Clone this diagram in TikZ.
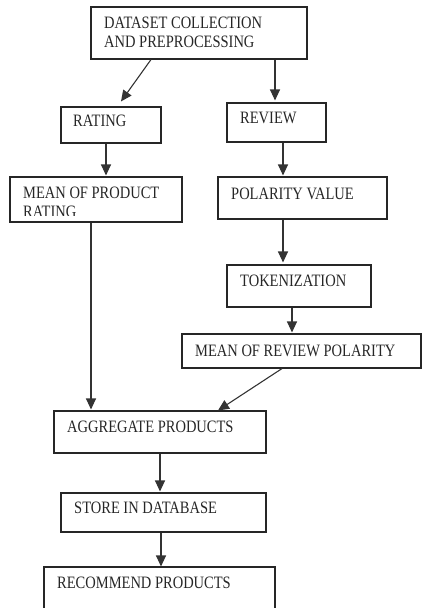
\documentclass[tikz,border=0pt]{standalone}
\usepackage{fontspec}
\setmainfont{Liberation Serif}
\usepackage{graphicx}
\usetikzlibrary{arrows.meta}
\newcommand{\etir}[1]{\scalebox{1}[1.2]{#1}}

\begin{document}
\begin{tikzpicture}[x=1pt,y=-1pt,
        boite/.style={draw=black!85,line width=1.1pt,inner sep=0pt},
        texte/.style={anchor=base west,inner sep=0pt,text=black!85,align=left,
            font=\fontsize{14.5}{19}\selectfont},
        fleche/.style={draw=black!80,line width=1.1pt,-{Triangle[width=10pt,length=11pt]}}]
        \clip (0,0) rectangle (422,608);
        
        % Les boites
        \node[boite,minimum width=216pt,minimum height=52pt] (D) at (199,33) {};
        \node[boite,minimum width=100pt,minimum height=36pt] (R) at (111,125) {};
        \node[boite,minimum width=99pt,minimum height=39pt] (V) at (276.5,122.5) {};
        \node[boite,minimum width=172pt,minimum height=45pt] (MR) at (96,199.5) {};
        \node[boite,minimum width=169pt,minimum height=42pt] (P) at (302.5,198) {};
        \node[boite,minimum width=144pt,minimum height=42pt] (T) at (299,286) {};
        \node[boite,minimum width=239pt,minimum height=34pt] (MP) at (301.5,351) {};
        \node[boite,minimum width=212pt,minimum height=42pt] (A) at (160,432) {};
        \node[boite,minimum width=205pt,minimum height=39pt] (S) at (163.5,512.5) {};
        \node[boite,minimum width=231pt,minimum height=58pt] (C) at (159.5,596) {};
        
        % Les textes (base = derniere ligne)
        \node[texte] (tD) at (104,47) {\etir{DATASET COLLECTION}\\\etir{AND PREPROCESSING}};
        \node[texte] (tR) at (73,126) {\etir{RATING}};
        \node[texte] (tV) at (240,123) {\etir{REVIEW}};
        \begin{scope}
            \clip (10,180) rectangle (182,215);
            \node[texte] (tMR) at (23,217) {\etir{MEAN OF PRODUCT}\\\etir{RATING}};
        \end{scope}
        \node[texte] (tP) at (231,199) {\etir{POLARITY VALUE}};
        \node[texte] (tT) at (240,286) {\etir{TOKENIZATION}};
        \node[texte] (tMP) at (195,356) {\etir{MEAN OF REVIEW POLARITY}};
        \node[texte] (tA) at (67,432) {\etir{AGGREGATE PRODUCTS}};
        \node[texte] (tS) at (74,513) {\etir{STORE IN DATABASE}};
        \node[texte] (tC) at (57,588) {\etir{RECOMMEND PRODUCTS}};
        
        % Les fleches
        \draw[fleche] ([xshift=-48pt]D.south) -- ([xshift=10pt,yshift=5pt]R.north);
        \draw[fleche] ([xshift=76pt]D.south) -- ([xshift=-1.5pt,yshift=2pt]V.north);
        \draw[fleche] ([xshift=-5pt]R.south) -- ([xshift=10pt,yshift=1pt]MR.north);
        \draw[fleche] ([xshift=6.5pt]V.south) -- ([xshift=-19.5pt,yshift=1pt]P.north);
        \draw[fleche] ([xshift=-19.5pt]P.south) -- ([xshift=-16pt,yshift=2pt]T.north);
        \draw[fleche] ([xshift=-7pt]T.south) -- ([xshift=-9.5pt,yshift=1pt]MP.north);
        \draw[fleche] ([xshift=-5pt]MR.south) -- ([xshift=-69pt,yshift=1pt]A.north);
        \draw[fleche] ([xshift=-19.5pt]MP.south) -- ([xshift=58pt,yshift=0pt]A.north);
        \draw[fleche] (A.south) -- ([xshift=-3.5pt,yshift=1pt]S.north);
        \draw[fleche] ([xshift=-2.5pt]S.south) -- ([xshift=1.5pt,yshift=0pt]C.north);
    \end{tikzpicture}
\end{document}
